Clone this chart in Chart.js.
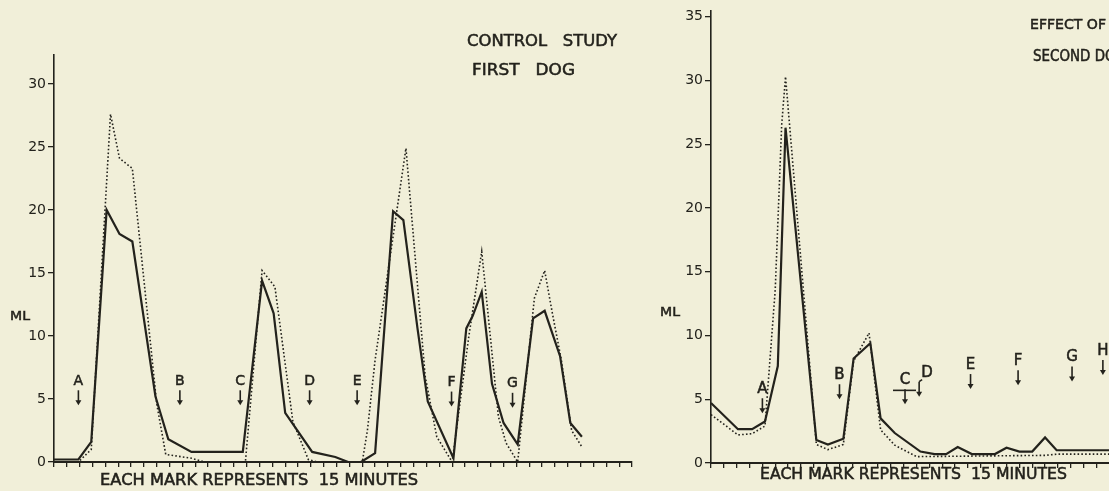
<!DOCTYPE html>
<html>
<head>
<meta charset="utf-8">
<script src="https://cdn.jsdelivr.net/npm/chart.js@4.4.1/dist/chart.umd.min.js"></script>
<style>
  html, body { margin: 0; padding: 0; background: #f1efd9; overflow: hidden; }
  body { width: 1109px; height: 491px; position: relative; }
  #firstDog { position: absolute; left: 0; top: 0; }
  #secondDog { position: absolute; left: 650px; top: 0; }
</style>
</head>
<body>
<canvas id="firstDog" width="650" height="491"></canvas>
<canvas id="secondDog" width="510" height="491"></canvas>
<script>
// x = position in 15 minute marks, y = ML
const dog1SolidMarks = [0, 1.9, 2.9, 4.1, 5.1, 6.1, 7.9, 8.9, 10.7, 14.7, 16.2, 17.1, 18.0, 20.1, 21.9, 22.9, 23.9, 25.0, 26.4, 27.2, 28.3, 29.1, 31.1, 32.1, 32.6, 33.3, 34.1, 35.0, 36.1, 37.3, 38.2, 39.4, 40.2, 41.1];
const dog1SolidMl = [0.2, 0.2, 1.6, 20.0, 18.1, 17.5, 5.2, 1.8, 0.8, 0.8, 14.4, 11.8, 3.9, 0.8, 0.4, 0.0, 0.0, 0.7, 19.9, 19.2, 10.6, 4.8, 0.3, 10.6, 11.6, 13.5, 6.2, 3.1, 1.4, 11.4, 12.0, 8.4, 3.1, 2.0];
const dog1DottedMarks = [0, 1.9, 2.9, 4.0, 4.4, 5.1, 6.1, 8.0, 8.7, 10.7, 11.7, 14.9, 16.2, 17.2, 18.6, 19.8, 20.5, 24.0, 24.4, 25.0, 27.4, 28.9, 29.8, 31.0, 32.3, 33.3, 34.6, 35.2, 36.1, 37.4, 38.2, 38.8, 39.5, 40.3, 41.1];
const dog1DottedMl = [0, 0, 1.0, 20.5, 27.6, 24.1, 23.3, 4.6, 0.6, 0.3, 0, 0, 15.2, 13.9, 3.2, 0.2, 0, 0, 2.5, 8.1, 24.9, 6.8, 2.0, 0, 10.0, 16.7, 3.6, 1.5, 0, 13.0, 15.2, 11.8, 8.1, 2.5, 1.2];

const dog2SolidMarks = [0, 2.1, 3.2, 4.2, 5.2, 5.8, 8.2, 9.1, 10.3, 11.1, 12.4, 13.2, 14.3, 16.3, 17.4, 18.3, 19.2, 20.3, 22.1, 23.0, 24.0, 25.0, 26.0, 26.9, 33];
const dog2SolidMl = [4.7, 2.65, 2.65, 3.25, 7.6, 26.3, 1.8, 1.45, 1.9, 8.2, 9.4, 3.5, 2.35, 0.9, 0.7, 0.7, 1.25, 0.7, 0.7, 1.2, 0.9, 0.9, 2.0, 1.0, 1.0];
const dog2DottedMarks = [0, 2.1, 3.2, 4.2, 5.0, 5.5, 5.8, 8.2, 9.1, 10.3, 11.1, 12.3, 13.2, 14.3, 16.0, 26.0, 27.0, 33];
const dog2DottedMl = [3.8, 2.2, 2.3, 2.9, 13.6, 26.5, 30.3, 1.45, 1.05, 1.45, 8.0, 10.2, 2.6, 1.4, 0.5, 0.6, 0.7, 0.7];

const dog1YTicks = [0, 5, 10, 15, 20, 25, 30];
const dog2YTicks = [0, 5, 10, 15, 20, 25, 30, 35];

const dog1ArrowLabels = ['A', 'B', 'C', 'D', 'E', 'F', 'G'];
const dog1ArrowMarks = [1.9, 9.8, 14.5, 19.9, 23.6, 30.95, 35.7];
const dog1ArrowTips = [4.5, 4.5, 4.5, 4.5, 4.5, 4.4, 4.3];

const dog2ArrowLabels = ['A', 'B', 'C', 'D', 'E', 'F', 'G', 'H'];
const dog2ArrowMarks = [4.0, 10.0, 15.1, 16.2, 20.2, 23.9, 28.1, 30.5];
const dog2ArrowTips = [3.9, 5.0, 4.6, 5.2, 5.8, 6.1, 6.4, 6.9];

const ink = '#23221c';
const font = '"DejaVu Sans", sans-serif';

function pts(xs, ys) {
    return xs.map((x, i) => ({ x: x, y: ys[i] }));
}

function fitText(ctx, str, x1, x2, yc, size) {
    ctx.save();
    ctx.font = size + 'px ' + font;
    ctx.fillStyle = ink;
    ctx.strokeStyle = ink;
    ctx.lineWidth = 0.5;
    ctx.textBaseline = 'middle';
    const w = ctx.measureText(str).width;
    ctx.translate(x1, yc);
    ctx.scale((x2 - x1) / w, 1);
    ctx.fillText(str, 0, 0);
    ctx.strokeText(str, 0, 0);
    ctx.restore();
}

// letters, arrows and lettering of the figure
const notes = {
    id: 'notes',
    afterDraw(chart, args, opts) {
        const ctx = chart.ctx;
        const x = chart.scales.x, y = chart.scales.y;
        ctx.save();
        ctx.strokeStyle = ink;
        ctx.fillStyle = ink;
        opts.labels.forEach((lab, i) => {
            const px = x.getPixelForValue(opts.marks[i]);
            const tip = y.getPixelForValue(opts.tips[i]);
            ctx.lineWidth = 1.6;
            ctx.beginPath();
            ctx.moveTo(px, tip - 15);
            ctx.lineTo(px, tip - 3);
            ctx.stroke();
            ctx.beginPath();
            ctx.moveTo(px - 3, tip - 5);
            ctx.lineTo(px + 3, tip - 5);
            ctx.lineTo(px, tip);
            ctx.closePath();
            ctx.fill();
            let dx = 0;
            if (opts.hook && opts.hook.includes(lab)) {
                dx = 8;
                ctx.beginPath();
                ctx.moveTo(px, tip - 15);
                ctx.lineTo(px + 3, tip - 17);
                ctx.stroke();
            }
            if (opts.bar && opts.bar.includes(lab)) {
                ctx.beginPath();
                ctx.moveTo(px - 12, tip - 14);
                ctx.lineTo(px + 11, tip - 14);
                ctx.stroke();
            }
            ctx.font = opts.letterSize + 'px ' + font;
            ctx.textAlign = 'center';
            ctx.textBaseline = 'middle';
            ctx.lineWidth = 0.5;
            ctx.fillText(lab, px + dx, tip - 24);
            ctx.strokeText(lab, px + dx, tip - 24);
        });
        ctx.restore();
        opts.texts.forEach(t => fitText(ctx, t[0], t[1], t[2], t[3], t[4]));
    }
};

function makeChart(el, solid, dotted, yMax, xMax, yTicks, pad, yWidth, xHeight, noteOpts) {
    return new Chart(el, {
        type: 'line',
        data: {
            datasets: [{
                data: solid,
                borderColor: ink,
                borderWidth: 2.2,
                pointRadius: 0,
                tension: 0
            }, {
                data: dotted,
                borderColor: ink,
                borderWidth: 1.6,
                borderDash: [1.6, 2.2],
                pointRadius: 0,
                tension: 0
            }]
        },
        options: {
            responsive: false,
            animation: false,
            layout: { padding: pad },
            plugins: { legend: { display: false }, tooltip: { enabled: false }, notes: noteOpts },
            scales: {
                x: {
                    type: 'linear',
                    min: 0,
                    max: xMax,
                    border: { color: ink, width: 2 },
                    grid: { drawOnChartArea: false, tickLength: 5, color: ink, lineWidth: 1.3 },
                    ticks: { display: false },
                    afterBuildTicks: s => { s.ticks = []; for (let i = 0; i <= xMax; i++) s.ticks.push({ value: i }); },
                    afterFit: s => { s.height = xHeight; }
                },
                y: {
                    min: 0,
                    max: yMax,
                    border: { color: ink, width: 1.6 },
                    grid: { drawOnChartArea: false, tickLength: 6, color: ink, lineWidth: 1.3 },
                    ticks: { color: ink, padding: 2, font: { family: font, size: 14 } },
                    afterBuildTicks: s => { s.ticks = yTicks.map(v => ({ value: v })); },
                    afterFit: s => { s.width = yWidth; }
                }
            }
        },
        plugins: [notes]
    });
}

makeChart(document.getElementById('firstDog'),
    pts(dog1SolidMarks, dog1SolidMl), pts(dog1DottedMarks, dog1DottedMl),
    32.3, 45, dog1YTicks, { top: 55, right: 18, left: 0, bottom: 0 }, 54, 29, {
        labels: dog1ArrowLabels, marks: dog1ArrowMarks, tips: dog1ArrowTips, letterSize: 14,
        texts: [
            ['CONTROL   STUDY', 467, 617, 42, 15],
            ['FIRST   DOG', 472, 575, 71, 15],
            ['EACH MARK REPRESENTS  15 MINUTES', 100, 418, 481, 15],
            ['ML', 10, 30, 317, 13]
        ]
    });

makeChart(document.getElementById('secondDog'),
    pts(dog2SolidMarks, dog2SolidMl), pts(dog2DottedMarks, dog2DottedMl),
    35.5, 33, dog2YTicks, { top: 10, right: 25, left: 0, bottom: 0 }, 61, 28, {
        labels: dog2ArrowLabels, marks: dog2ArrowMarks, tips: dog2ArrowTips, letterSize: 15,
        hook: ['D'], bar: ['C'],
        texts: [
            ['EFFECT OF', 1030 - 650, 1106 - 650, 25, 14],
            ['SECOND DOG', 1033 - 650, 1126 - 650, 57, 15],
            ['EACH MARK REPRESENTS  15 MINUTES', 110, 417, 475, 15],
            ['ML', 10, 30, 313, 13]
        ]
    });
</script>
</body>
</html>
